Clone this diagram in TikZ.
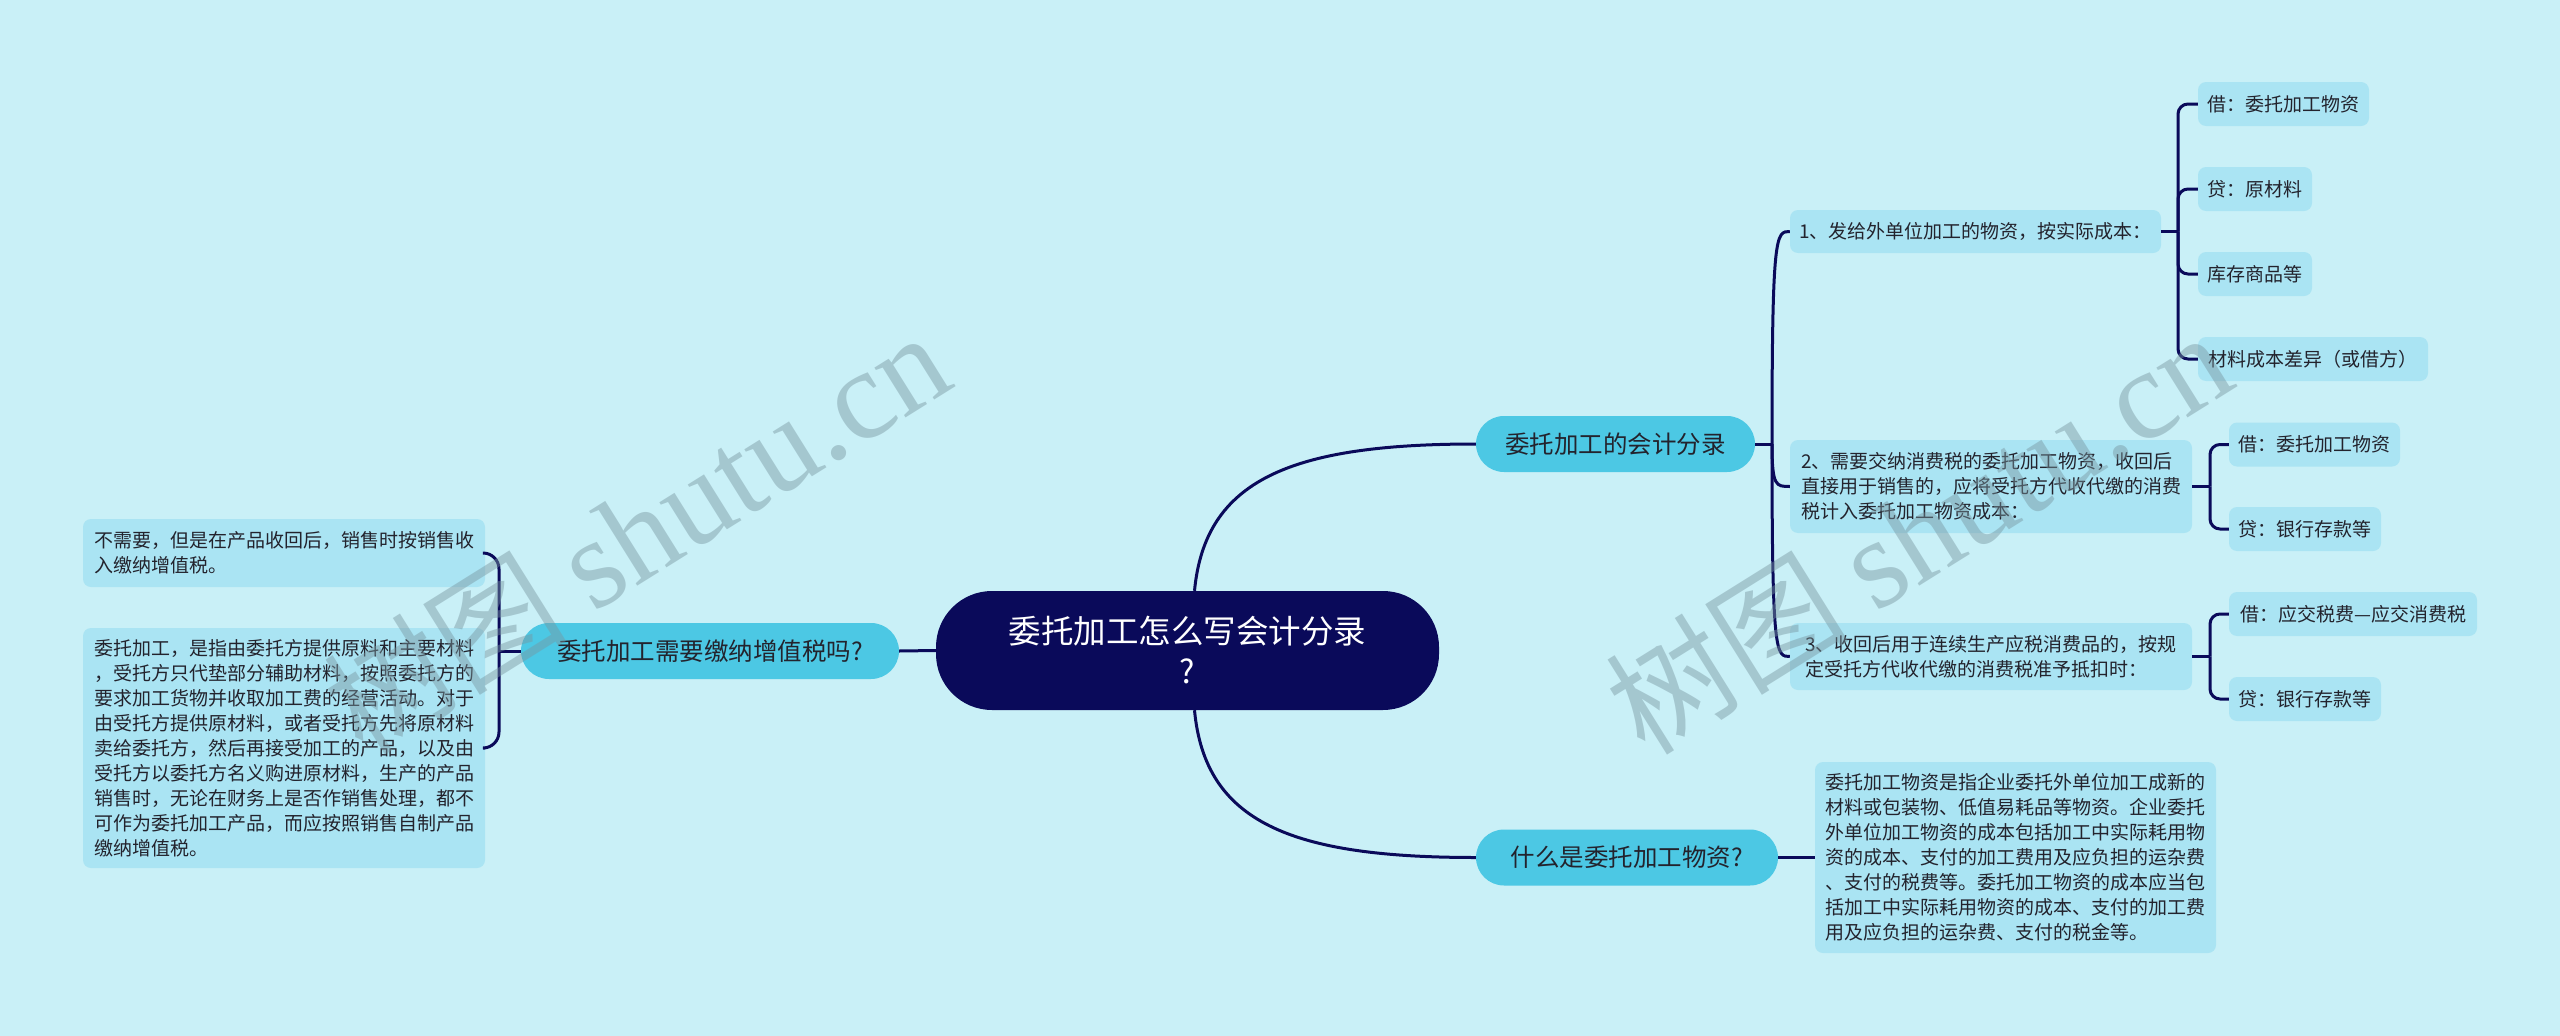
\documentclass[tikz,border=0pt]{standalone}
\usepackage{fontspec}
\setmainfont{Noto Sans CJK SC}
\newfontfamily\wmlatin{Liberation Serif}
\newfontfamily\cjkf{Noto Sans CJK SC}
\definecolor{bgc}{RGB}{201,240,247}
\definecolor{navy}{RGB}{10,10,90}
\definecolor{lvone}{RGB}{76,200,228}
\definecolor{boxc}{RGB}{170,228,243}
\definecolor{txt}{RGB}{35,35,45}
\definecolor{wmc}{RGB}{120,150,160}
\tikzset{
  rootnode/.style={fill=navy, text=white, rounded corners=56pt, minimum width=503pt, minimum height=119pt, font=\fontsize{32.5}{40}\selectfont, align=center, inner sep=0pt},
  lone/.style={fill=lvone, text=txt, rounded corners=28pt, minimum height=56pt, font=\fontsize{24.5}{30}\selectfont, inner sep=0pt},
  tbox/.style={fill=boxc, text=txt, rounded corners=8pt, font=\fontsize{19}{25}\selectfont, align=left, inner sep=0pt},
  conn/.style={draw=navy, line width=3pt},
  wmark/.style={rotate=32, text=wmc, opacity=0.45, inner sep=0pt}
}
\begin{document}
\begin{tikzpicture}[x=1pt,y=-1pt]
\fill[bgc] (0,0) rectangle (2560,1036);
\useasboundingbox (0,0) rectangle (2560,1036);

% nodes
\node[rootnode] (root) at (1187.5,650.5) {委托加工怎么写会计分录\\?};
\node[lone, minimum width=378pt] (L) at (710,651) {委托加工需要缴纳增值税吗?};
\node[lone, minimum width=279pt] (R1) at (1615.5,444) {委托加工的会计分录};
\node[lone, minimum width=302pt] (R2) at (1627,857.5) {什么是委托加工物资?};

\node[tbox, minimum width=402pt, minimum height=68pt] (LA) at (284,553) {不需要，但是在产品收回后，销售时按销售收\\入缴纳增值税。};
\node[tbox, minimum width=402pt, minimum height=240pt] (LB) at (284,748) {委托加工，是指由委托方提供原料和主要材料\\，受托方只代垫部分辅助材料，按照委托方的\\要求加工货物并收取加工费的经营活动。对于\\由受托方提供原材料，或者受托方先将原材料\\卖给委托方，然后再接受加工的产品，以及由\\受托方以委托方名义购进原材料，生产的产品\\销售时，无论在财务上是否作销售处理，都不\\可作为委托加工产品，而应按照销售自制产品\\缴纳增值税。};

\node[tbox, minimum width=371pt, minimum height=43pt] (A1) at (1975.5,231.5) {1、发给外单位加工的物资，按实际成本：};
\node[tbox, minimum width=402pt, minimum height=93pt] (A2) at (1991,486.5) {2、需要交纳消费税的委托加工物资，收回后\\直接用于销售的，应将受托方代收代缴的消费\\税计入委托加工物资成本：};
\node[tbox, minimum width=402pt, minimum height=67pt] (A3) at (1991,656.5) {3、收回后用于连续生产应税消费品的，按规\\定受托方代收代缴的消费税准予抵扣时：};
\node[tbox, minimum width=401pt, minimum height=191pt] (B1) at (2015.5,857.5) {委托加工物资是指企业委托外单位加工成新的\\材料或包装物、低值易耗品等物资。企业委托\\外单位加工物资的成本包括加工中实际耗用物\\资的成本、支付的加工费用及应负担的运杂费\\、支付的税费等。委托加工物资的成本应当包\\括加工中实际耗用物资的成本、支付的加工费\\用及应负担的运杂费、支付的税金等。};

\node[tbox, minimum width=171pt, minimum height=44pt] (a11) at (2283.5,104) {借：委托加工物资};
\node[tbox, minimum width=114pt, minimum height=44pt] (a12) at (2255,189) {贷：原材料};
\node[tbox, minimum width=114pt, minimum height=44pt] (a13) at (2255,274) {库存商品等};
\node[tbox, minimum width=230pt, minimum height=44pt] (a14) at (2313,359) {材料成本差异（或借方）};

\node[tbox, minimum width=171pt, minimum height=44pt] (a21) at (2314.5,444.5) {借：委托加工物资};
\node[tbox, minimum width=152pt, minimum height=44pt] (a22) at (2305,529) {贷：银行存款等};
\node[tbox, minimum width=248pt, minimum height=44pt] (a31) at (2353,614) {借：应交税费—应交消费税};
\node[tbox, minimum width=152pt, minimum height=44pt] (a32) at (2305,699) {贷：银行存款等};

% junction coordinates
\coordinate (lj) at (499,651);
\coordinate (r1j) at (1772,444);
\coordinate (a1j) at (2178,231.5);
\coordinate (a2j) at (2210,486.5);
\coordinate (a3j) at (2210,656.5);

% connectors
\draw[conn] (root.west) -- (L.east);
\draw[conn] ([xshift=7pt]root.north) .. controls (1205,480) and (1290,444) .. (R1.west);
\draw[conn] ([xshift=7pt]root.south) .. controls (1205,822) and (1290,857.5) .. (R2.west);
\draw[conn] (R2.east) -- (B1.west);

\draw[conn] (L.west) -- (lj);
\draw[conn, rounded corners=16pt] (lj) |- (LA.east);
\draw[conn, rounded corners=16pt] (lj) |- (LB.east);

\draw[conn] (R1.east) -- (r1j);
\draw[conn] (r1j) .. controls (1772,231.5) and (1776,231.5) .. (A1.west);
\draw[conn] (r1j) .. controls (1772,486.5) and (1776,486.5) .. (A2.west);
\draw[conn] (r1j) .. controls (1772,656.5) and (1776,656.5) .. (A3.west);

\draw[conn] (A1.east) -- (a1j);
\foreach \t in {a11,a12,a13,a14} \draw[conn, rounded corners=10pt] (a1j) |- (\t.west);
\draw[conn] (A2.east) -- (a2j);
\foreach \t in {a21,a22} \draw[conn, rounded corners=10pt] (a2j) |- (\t.west);
\draw[conn] (A3.east) -- (a3j);
\foreach \t in {a31,a32} \draw[conn, rounded corners=10pt] (a3j) |- (\t.west);

% watermarks
\node[wmark] (wm1) at (636,532) {\cjkf\fontsize{122}{128}\selectfont 树图\ \wmlatin\fontsize{128}{132}\selectfont shutu.cn};
\node[wmark] (wm2) at (1918,532) {\cjkf\fontsize{122}{128}\selectfont 树图\ \wmlatin\fontsize{128}{132}\selectfont shutu.cn};
\end{tikzpicture}
\end{document}
